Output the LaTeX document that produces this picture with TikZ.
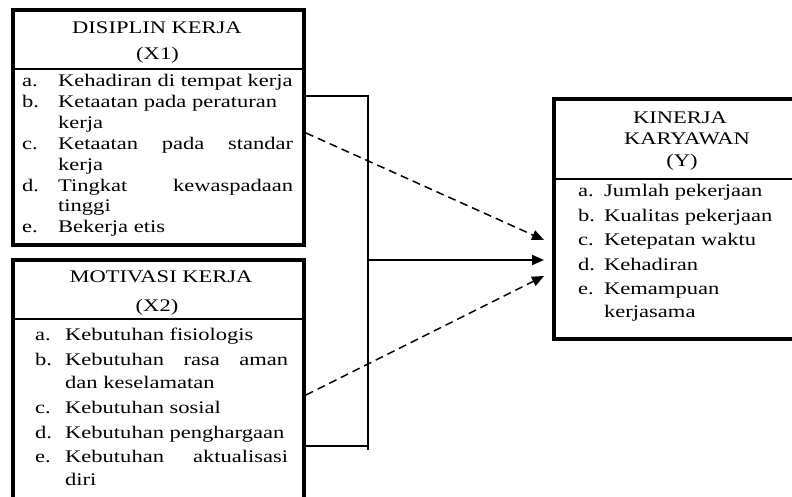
\documentclass[tikz,border=0pt]{standalone}
\usepackage{fontspec}
\setmainfont[FakeStretch=1.27]{Liberation Serif}
\usetikzlibrary{arrows.meta}
\begin{document}
\begin{tikzpicture}[x=1bp,y=-1bp,
  txt/.style={inner sep=0pt,anchor=base west,font=\fontsize{17.8}{21}\selectfont},
  head/.style={inner sep=0pt,anchor=base,font=\fontsize{17.8}{21}\selectfont},
  boxline/.style={line width=3.5bp},
  divline/.style={line width=1.2bp},
  link/.style={line width=2bp},
  dlink/.style={line width=1.5bp,dash pattern=on 8bp off 5bp,-{Triangle[length=12bp,width=10bp]}},
  slink/.style={line width=2bp,-{Triangle[length=12bp,width=10bp]}}]
\useasboundingbox (0,0) rectangle (792,497);
% Box 1
\draw[boxline] (13,10) rectangle (304,245);
\draw[divline] (13,69) -- (304,69);
\node[head] (h1a) at (157,34) {DISIPLIN KERJA};
\node[head] (h1b) at (157.5,60) {(X1)};
\node[txt] (l1a) at (22,87) {a.};
\node[txt] (t1a) at (58,87) {Kehadiran di tempat kerja};
\node[txt] (l1b) at (22,108) {b.};
\node[txt] (t1b) at (58,108) {Ketaatan pada peraturan};
\node[txt] (t1b2) at (58,129) {kerja};
\node[txt] (l1c) at (22,150) {c.};
\node[txt] (t1c) at (58,150) {\makebox[235bp][s]{Ketaatan pada standar}};
\node[txt] (t1c2) at (58,171) {kerja};
\node[txt] (l1d) at (22,192) {d.};
\node[txt] (t1d) at (58,192) {\makebox[235bp][s]{Tingkat kewaspadaan}};
\node[txt] (t1d2) at (58,212) {tinggi};
\node[txt] (l1e) at (22,233) {e.};
\node[txt] (t1e) at (58,233) {Bekerja etis};
% Box 2
\draw[boxline] (13,502) -- (13,260) -- (304,260) -- (304,502);
\draw[divline] (13,319) -- (304,319);
\node[head] (h2a) at (161,283) {MOTIVASI KERJA};
\node[head] (h2b) at (157,312) {(X2)};
\node[txt] (l2a) at (35,340) {a.};
\node[txt] (t2a) at (65,340) {Kebutuhan fisiologis};
\node[txt] (l2b) at (35,365) {b.};
\node[txt] (t2b) at (65,365) {\makebox[223bp][s]{Kebutuhan rasa aman}};
\node[txt] (t2b2) at (65,388) {dan keselamatan};
\node[txt] (l2c) at (35,413) {c.};
\node[txt] (t2c) at (65,413) {Kebutuhan sosial};
\node[txt] (l2d) at (35,438) {d.};
\node[txt] (t2d) at (65,438) {Kebutuhan penghargaan};
\node[txt] (l2e) at (35,462) {e.};
\node[txt] (t2e) at (65,462) {\makebox[223bp][s]{Kebutuhan aktualisasi}};
\node[txt] (t2e2) at (65,485) {diri};
% Box 3
\draw[boxline] (797,99) -- (554,99) -- (554,339) -- (797,339);
\draw[divline] (554,179) -- (797,179);
\node[head] (h3a) at (680,124) {KINERJA};
\node[head] (h3b) at (687,145) {KARYAWAN};
\node[head] (h3c) at (682,167) {(Y)};
\node[txt] (l3a) at (578,197) {a.};
\node[txt] (t3a) at (604,197) {Jumlah pekerjaan};
\node[txt] (l3b) at (578,222) {b.};
\node[txt] (t3b) at (604,222) {Kualitas pekerjaan};
\node[txt] (l3c) at (578,246) {c.};
\node[txt] (t3c) at (604,246) {Ketepatan waktu};
\node[txt] (l3d) at (578,271) {d.};
\node[txt] (t3d) at (604,271) {Kehadiran};
\node[txt] (l3e) at (578,295) {e.};
\node[txt] (t3e) at (604,295) {Kemampuan};
\node[txt] (t3e2) at (604,317) {kerjasama};
% Connectors
\coordinate (b1r) at (305,96);
\coordinate (jt) at (369,96);
\coordinate (jb) at (368,450);
\coordinate (b2r) at (305,446);
\coordinate (jbm) at (368,446);
\coordinate (jm) at (367,260);
\coordinate (ym) at (544,260);
\coordinate (d1s) at (306,133);
\coordinate (d1e) at (544,240);
\coordinate (d2s) at (306,395);
\coordinate (d2e) at (544,276);
\draw[link] (b1r) -- (jt);
\draw[link] (368,96) -- (jb);
\draw[link] (b2r) -- (jbm);
\draw[slink] (jm) -- (ym);
\draw[dlink] (d1s) -- (d1e);
\draw[dlink] (d2s) -- (d2e);
\end{tikzpicture}
\end{document}
